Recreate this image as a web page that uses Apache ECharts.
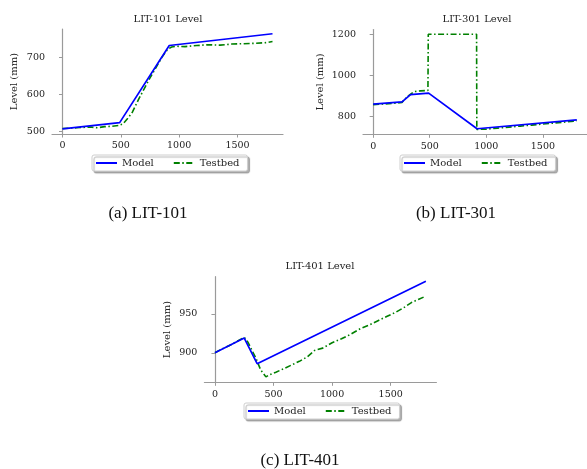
<!DOCTYPE html>
<html>
<head>
<meta charset="utf-8">
<script src="https://cdn.jsdelivr.net/npm/echarts@6/dist/echarts.min.js"></script>
<style>
html,body{margin:0;padding:0;background:#fff;}
#c{width:587px;height:469px;}
</style>
</head>
<body>
<div id="c"></div>
<script>
// ---- data ----
const xTicks = [0, 500, 1000, 1500];

const lit101ModelT = [0, 490, 915, 1800];
const lit101ModelL = [506, 523, 733, 765];
const lit101TestT = [0, 60, 120, 180, 240, 300, 360, 420, 480, 520, 560, 600, 650, 700, 750, 800, 850, 900, 935, 980, 1050, 1150, 1250, 1350, 1450, 1550, 1650, 1750, 1800];
const lit101TestL = [507, 508, 509, 510, 511, 509, 512, 513, 515, 520, 535, 552, 585, 615, 645, 672, 700, 722, 729, 731, 730, 733, 735, 734, 737, 738, 739, 741, 744];
const lit101Ticks = [500, 600, 700];

const lit301ModelT = [0, 255, 330, 490, 918, 1800];
const lit301ModelL = [859, 870, 906, 913, 739, 782];
const lit301TestT = [0, 100, 200, 255, 300, 360, 420, 484, 487, 600, 700, 800, 914, 916, 930, 1000, 1100, 1200, 1300, 1400, 1500, 1600, 1700, 1800];
const lit301TestL = [857, 860, 864, 868, 895, 920, 924, 926, 1200, 1200, 1200, 1200, 1200, 736, 734, 737, 742, 747, 752, 757, 762, 767, 772, 778];
const lit301Ticks = [800, 1000, 1200];

const lit401ModelT = [0, 250, 360, 1800];
const lit401ModelL = [900, 919, 886, 992];
const lit401TestT = [0, 60, 120, 180, 250, 280, 310, 350, 390, 435, 470, 520, 580, 650, 720, 790, 850, 920, 1000, 1080, 1160, 1240, 1320, 1400, 1470, 1540, 1610, 1680, 1740, 1800];
const lit401TestL = [900, 905, 909, 914, 920, 914, 905, 893, 878, 869, 872, 875, 879, 884, 889, 895, 903, 906, 913, 918, 924, 931, 936, 942, 947, 952, 958, 965, 969, 973];
const lit401Ticks = [900, 950];

const titles = ['LIT-101 Level', 'LIT-301 Level', 'LIT-401 Level'];
const captions = ['(a) LIT-101', '(b) LIT-301', '(c) LIT-401'];
const seriesNames = ['Model', 'Testbed'];
const yName = 'Level (mm)';

// ---- helpers ----
const zip = (a, b) => a.map((v, i) => [v, b[i]]);
const SERIF = "'DejaVu Serif', serif";
const TXT = '#222';
const AX = '#9a9a9a';
const plain = v => String(v);

const grids = [
  {left: 52, top: 29, width: 231, height: 105},
  {left: 363, top: 29.6, width: 226.6, height: 104.7},
  {left: 204.4, top: 276.7, width: 232, height: 105.6}
];
const yRanges = [[492, 778], [712, 1223], [862, 998]];
const yTicks = [lit101Ticks, lit301Ticks, lit401Ticks];
const nameGaps = [33, 38, 32];

function xAxis(i) {
  return {
    type: 'value', gridIndex: i, min: -90, max: 1890,
    axisLine: {show: true, lineStyle: {color: AX, width: 1.2}},
    axisTick: {show: true, length: 3.5, lineStyle: {color: AX, width: 1}, customValues: xTicks},
    axisLabel: {customValues: xTicks, formatter: plain, color: TXT, fontFamily: SERIF, fontSize: 9.5, margin: 7},
    splitLine: {show: false}
  };
}
function yAxis(i) {
  return {
    type: 'value', gridIndex: i, min: yRanges[i][0], max: yRanges[i][1],
    name: yName, nameLocation: 'middle', nameGap: nameGaps[i],
    nameTextStyle: {color: TXT, fontFamily: SERIF, fontSize: 10},
    axisLine: {show: true, lineStyle: {color: AX, width: 1.2}},
    axisTick: {show: true, length: 3.5, lineStyle: {color: AX, width: 1}, customValues: yTicks[i]},
    axisLabel: {customValues: yTicks[i], formatter: plain, color: TXT, fontFamily: SERIF, fontSize: 9.5, margin: 7},
    splitLine: {show: false}
  };
}
const modelData = [zip(lit101ModelT, lit101ModelL), zip(lit301ModelT, lit301ModelL), zip(lit401ModelT, lit401ModelL)];
const testData = [zip(lit101TestT, lit101TestL), zip(lit301TestT, lit301TestL), zip(lit401TestT, lit401TestL)];

const series = [];
for (let i = 0; i < 3; i++) {
  series.push({
    name: seriesNames[0], type: 'line', xAxisIndex: i, yAxisIndex: i,
    data: modelData[i], symbol: 'none', showSymbol: false,
    lineStyle: {color: '#0000ff', width: 1.7}, itemStyle: {color: '#0000ff'}, z: 3
  });
  series.push({
    name: seriesNames[1], type: 'line', xAxisIndex: i, yAxisIndex: i,
    data: testData[i], symbol: 'none', showSymbol: false,
    lineStyle: {color: '#008000', width: 1.6, type: [6, 2.5, 1.5, 2.5]}, itemStyle: {color: '#008000'}, z: 2
  });
}

const titlePos = [[168, 19], [477, 19], [320, 266]];
const capPos = [[148, 214], [456, 214], [300, 461]];
const title = [];
for (let i = 0; i < 3; i++) {
  title.push({text: titles[i], left: titlePos[i][0], top: titlePos[i][1], textAlign: 'center', textVerticalAlign: 'middle', padding: 0,
    textStyle: {fontFamily: SERIF, fontSize: 10, fontWeight: 'normal', color: TXT}});
  title.push({text: captions[i], left: capPos[i][0], top: capPos[i][1], textAlign: 'center', textVerticalAlign: 'middle', padding: 0,
    textStyle: {fontFamily: "'Liberation Serif', serif", fontSize: 17, fontWeight: 'normal', color: '#111'}});
}

const legPos = [[92, 155], [400, 155], [244, 403]];
const legend = legPos.map(p => ({
  data: seriesNames, left: p[0], top: p[1], orient: 'horizontal',
  padding: [3, 8, 3, 3], itemGap: 19, itemWidth: 21, itemHeight: 12,
  textStyle: {fontFamily: SERIF, fontSize: 10, color: TXT},
  itemStyle: {color: 'rgba(0,0,0,0)', borderWidth: 0, opacity: 0},
  borderColor: '#cfcfcf', borderWidth: 1, borderRadius: 2, backgroundColor: '#fff',
  shadowColor: 'rgba(0,0,0,0.3)', shadowOffsetX: 2, shadowOffsetY: 2, shadowBlur: 1,
  selectedMode: false
}));

const chart = echarts.init(document.getElementById('c'), null, {renderer: 'canvas'});
chart.setOption({
  animation: false,
  backgroundColor: '#fff',
  title: title,
  legend: legend,
  grid: grids,
  xAxis: [0, 1, 2].map(xAxis),
  yAxis: [0, 1, 2].map(yAxis),
  series: series
});
</script>
</body>
</html>
